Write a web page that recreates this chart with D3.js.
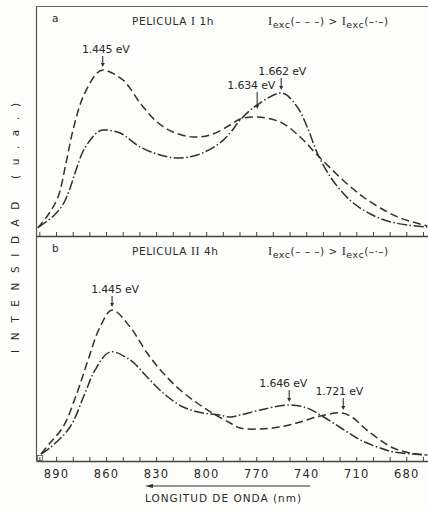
<!DOCTYPE html>
<html>
<head>
<meta charset="utf-8">
<script src="https://d3js.org/d3.v7.min.js"></script>
<style>
  html, body { margin: 0; padding: 0; background: #fdfdfb; }
  svg { display: block; }
  text { font-family: "DejaVu Sans", sans-serif; fill: #2a2a2a; }
</style>
</head>
<body>
<div id="chart"></div>
<script>
// wavelength ticks (nm) and labelled ones
var minorTicks = d3.range(900, 669, -10);
var labelTicks = [890, 860, 830, 800, 770, 740, 710, 680];

// panel a  (PELICULA I 1h) : [wavelength nm, intensity a.u.]
var aDashed = [
  [901, 0], [894.8, 13], [888.8, 31], [884, 65], [879.8, 98], [873.8, 131],
  [865.4, 155], [861.8, 158], [849.8, 148], [839.6, 125], [829.4, 106],
  [819.8, 96], [807.8, 91], [797.6, 93], [785.6, 103], [779.6, 109],
  [769.4, 111], [755.6, 106], [743.6, 91], [733.4, 73], [725.6, 60],
  [715.4, 44], [705.8, 31], [695.6, 20], [683.6, 10], [667.4, 2]
];
var aDashDot = [
  [900.5, 1], [896, 6], [891, 13], [886, 23], [882, 38], [878, 58],
  [874, 76], [869, 89], [865, 96], [861.8, 98], [851.6, 95], [839.6, 81],
  [827.6, 73], [817.4, 70], [805.4, 73], [793.4, 83], [785.6, 95],
  [779.6, 108], [769.4, 123], [754.4, 135], [745.4, 121], [739.4, 101],
  [733.4, 75], [727.4, 56], [719.6, 38], [711.8, 25], [701.6, 14],
  [691.4, 7], [679.4, 3], [667.4, 1]
];

// panel b  (PELICULA II 4h)
var bDashed = [
  [899, 2], [893.6, 13], [885.8, 29], [877.4, 63], [870.8, 96], [863.6, 129],
  [856.4, 146], [845.6, 129], [835.4, 103], [825.8, 83], [815.6, 66],
  [805.4, 53], [796.4, 43], [785.6, 33], [779.6, 28], [767.6, 27],
  [755.6, 29], [743.6, 34], [731.6, 40], [718.4, 43], [711.8, 38],
  [705.8, 29], [697.4, 18], [687.8, 8], [677.6, 3], [667.4, 1]
];
var bDashDot = [
  [899, 2], [893, 9], [881.6, 29], [872.6, 63], [866.6, 86], [857.6, 104],
  [845.6, 96], [835.4, 79], [825.8, 63], [813.8, 49], [801.8, 43],
  [792.2, 41], [785.6, 39], [779.6, 41], [767.6, 46], [750.8, 51],
  [739.4, 48], [731.6, 41], [723.8, 33], [715.4, 24], [707.6, 16],
  [697.4, 9], [687.8, 4], [675.8, 2], [667.4, 1]
];

// peak markers: label, wavelength of arrow, curve value it points at
var aPeaks = [
  { label: "1.445 eV", nm: 862, value: 158, len: 11, dx: 3 },
  { label: "1.662 eV", nm: 755, value: 135, len: 12, dx: 1 },
  { label: "1.634 eV", nm: 769.4, value: 116, len: 17, dx: -6 }
];
var bPeaks = [
  { label: "1.445 eV", nm: 856.4, value: 146, len: 11, dx: 3 },
  { label: "1.646 eV", nm: 750.2, value: 51, len: 12, dx: -6 },
  { label: "1.721 eV", nm: 717.8, value: 43, len: 12, dx: -4 }
];

var W = 428, H = 510;
var svg = d3.select("#chart").append("svg")
  .attr("width", W).attr("height", H);

var x = d3.scaleLinear().domain([902, 667]).range([36, 428]);

var panels = [
  { id: "a", title: "PELICULA ", roman: "I", time: " 1h", top: 6, bottom: 236,
    y: d3.scaleLinear().domain([0, 222]).range([228, 6]),
    dashed: aDashed, dashdot: aDashDot, peaks: aPeaks, labels: false },
  { id: "b", title: "PELICULA ", roman: "II", time: " 4h", top: 236, bottom: 461,
    y: d3.scaleLinear().domain([0, 220]).range([456, 236]),
    dashed: bDashed, dashdot: bDashDot, peaks: bPeaks, labels: true }
];

var ink = "#2f322d";

// frame: left and top
svg.append("line").attr("x1", 36.5).attr("x2", 36.5).attr("y1", 6).attr("y2", 461)
  .attr("stroke", "#555").attr("stroke-width", 1.2);
svg.append("line").attr("x1", 36).attr("x2", 428).attr("y1", 6.5).attr("y2", 6.5)
  .attr("stroke", "#666").attr("stroke-width", 1);

panels.forEach(function (p) {
  var g = svg.append("g");
  var line = d3.line()
    .x(function (d) { return x(d[0]); })
    .y(function (d) { return p.y(d[1]); })
    .curve(d3.curveCatmullRom.alpha(0.5));

  g.append("path").datum(p.dashed)
    .attr("d", line).attr("fill", "none")
    .attr("stroke", ink).attr("stroke-width", 1.5)
    .attr("stroke-dasharray", "8,4");
  g.append("path").datum(p.dashdot)
    .attr("d", line).attr("fill", "none")
    .attr("stroke", ink).attr("stroke-width", 1.5)
    .attr("stroke-dasharray", "10,2.5,1.5,2.5");

  // axis along panel bottom, ticks pointing inward
  var axis = d3.axisBottom(x)
    .tickValues(minorTicks)
    .tickSizeInner(-4).tickSizeOuter(0)
    .tickPadding(9)
    .tickFormat(function (d) { return p.labels && labelTicks.indexOf(d) >= 0 ? d : ""; });
  var ax = g.append("g").attr("transform", "translate(0," + p.bottom + ")").call(axis);
  ax.select(".domain").attr("stroke", "#444").attr("stroke-width", 1.3);
  ax.selectAll(".tick line").attr("stroke", "#444");
  ax.selectAll(".tick text")
    .style("font-family", "DejaVu Sans, sans-serif")
    .attr("font-size", 11.5).attr("letter-spacing", 1.2).attr("fill", "#2a2a2a");

  // panel letter and title
  g.append("text").attr("x", 52).attr("y", p.top + 16)
    .attr("font-size", 10.5).text(p.id);
  var t = g.append("text").attr("x", 132).attr("y", p.top + 19)
    .attr("font-size", 10.5).attr("letter-spacing", 0.6);
  t.append("tspan").text(p.title);
  t.append("tspan").style("font-family", "Liberation Serif, serif")
    .attr("font-size", 12).text(p.roman);
  t.append("tspan").text(p.time);

  // I_exc(---) > I_exc(-.-)
  var h = g.append("text").attr("x", 268).attr("y", p.top + 19)
    .attr("font-size", 10.5).attr("letter-spacing", 0.5);
  h.append("tspan").style("font-family", "Liberation Serif, serif").attr("font-size", 12.5).text("I");
  h.append("tspan").attr("dy", 3).attr("font-size", 9.5).text("exc");
  h.append("tspan").attr("dy", -3).text("(– – –) > ");
  h.append("tspan").style("font-family", "Liberation Serif, serif").attr("font-size", 12.5).text("I");
  h.append("tspan").attr("dy", 3).attr("font-size", 9.5).text("exc");
  h.append("tspan").attr("dy", -3).text("(–·–)");

  // peak arrows and labels
  p.peaks.forEach(function (k) {
    var px = x(k.nm);
    var tip = p.y(k.value) - 3;
    var tail = tip - k.len;
    g.append("line").attr("x1", px).attr("x2", px).attr("y1", tail).attr("y2", tip - 2)
      .attr("stroke", ink).attr("stroke-width", 1.1);
    g.append("path")
      .attr("d", "M" + (px - 2) + "," + (tip - 4) + "L" + (px + 2) + "," + (tip - 4) + "L" + px + "," + tip + "Z")
      .attr("fill", ink);
    g.append("text").attr("x", px + k.dx).attr("y", tail - 3)
      .attr("text-anchor", "middle").attr("font-size", 11).attr("letter-spacing", -0.2)
      .text(k.label);
  });
});

// small square at origin
svg.append("rect").attr("x", 37.5).attr("y", 455.5).attr("width", 5).attr("height", 5)
  .attr("fill", "none").attr("stroke", "#555").attr("stroke-width", 0.8);

// y title
svg.append("text")
  .attr("transform", "translate(19,228) rotate(-90)")
  .attr("text-anchor", "middle")
  .attr("font-size", 10.5)
  .attr("textLength", 250).attr("lengthAdjust", "spacing")
  .text("INTENSIDAD (u.a.)");

// x title with leftward arrow
svg.append("line").attr("x1", 150).attr("x2", 310).attr("y1", 486).attr("y2", 486)
  .attr("stroke", ink).attr("stroke-width", 1);
svg.append("path").attr("d", "M145,486L153,484L153,488Z").attr("fill", ink);
svg.append("text").attr("x", 145).attr("y", 502)
  .attr("font-size", 10.5).attr("letter-spacing", 1)
  .text("LONGITUD DE ONDA (nm)");
</script>
</body>
</html>
